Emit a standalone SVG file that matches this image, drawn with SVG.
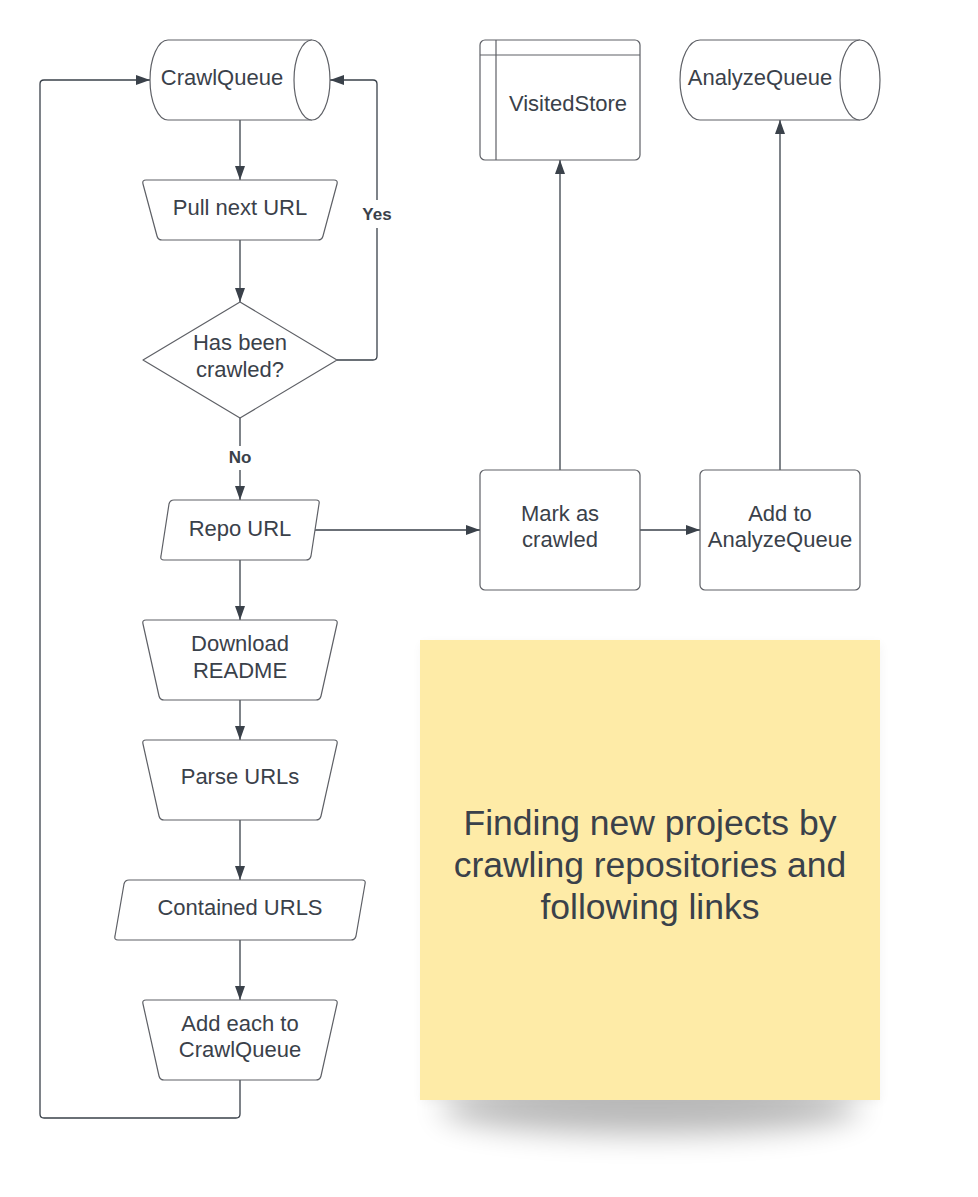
<svg xmlns="http://www.w3.org/2000/svg" width="978" height="1197" viewBox="0 0 978 1197">
<style>
.s{fill:#ffffff;stroke:#5e6066;stroke-width:1.2;stroke-linejoin:round}
.t{font-family:"Liberation Sans",Arial,sans-serif;font-size:22px;fill:#3a414a;text-anchor:middle}
.c{fill:none;stroke:#3a414a;stroke-width:1.3}
.lb{font-family:"Liberation Sans",Arial,sans-serif;font-size:17px;font-weight:bold;fill:#3a414a;text-anchor:middle}
.title{font-family:"Liberation Sans",Arial,sans-serif;font-size:35.5px;fill:#3a414a;text-anchor:middle}
</style>
<defs>
<marker id="ah" markerUnits="userSpaceOnUse" markerWidth="14" markerHeight="10" refX="14" refY="5" orient="auto">
<path d="M0,0 L14,5 L0,10 Z" fill="#3a414a"/>
</marker>
<filter id="blur" x="-30%" y="-100%" width="160%" height="300%">
<feGaussianBlur stdDeviation="15"/>
</filter>
<filter id="blur2" x="-20%" y="-20%" width="140%" height="140%">
<feGaussianBlur stdDeviation="6"/>
</filter>
<path id="trap80" d="M146,0 H334 Q338,0 337,4 L321,76 Q320,80 316,80 H164 Q160,80 159,76 L143,4 Q142,0 146,0 Z"/>
</defs>
<rect width="978" height="1197" fill="#ffffff"/>

<g id="note">
<rect x="422" y="644" width="458" height="458" fill="#000" opacity="0.05" filter="url(#blur2)"/>
<ellipse cx="650" cy="1108" rx="210" ry="26" fill="#000" opacity="0.28" filter="url(#blur)"/>
<rect x="420" y="640" width="460" height="460" fill="#FEEBA7"/>
<text class="title" x="650" y="835">Finding new projects by</text>
<text class="title" x="650" y="877">crawling repositories and</text>
<text class="title" x="650" y="919">following links</text>
</g>

<g id="connectors">
<path class="c" d="M240,120 V180" marker-end="url(#ah)"/>
<path class="c" d="M240,240 V302" marker-end="url(#ah)"/>
<path class="c" d="M240,418 V500" marker-end="url(#ah)"/>
<path class="c" d="M240,560 V620" marker-end="url(#ah)"/>
<path class="c" d="M240,700 V740" marker-end="url(#ah)"/>
<path class="c" d="M240,820 V880" marker-end="url(#ah)"/>
<path class="c" d="M240,940 V1000" marker-end="url(#ah)"/>
<path class="c" d="M337,360 H373 Q377,360 377,356 V84 Q377,80 373,80 H330" marker-end="url(#ah)"/>
<path class="c" d="M240,1080 V1114 Q240,1118 236,1118 H44 Q40,1118 40,1114 V84 Q40,80 44,80 H150" marker-end="url(#ah)"/>
<path class="c" d="M315,530 H480" marker-end="url(#ah)"/>
<path class="c" d="M640,530 H700" marker-end="url(#ah)"/>
<path class="c" d="M560,470 V160" marker-end="url(#ah)"/>
<path class="c" d="M780,470 V120" marker-end="url(#ah)"/>
<rect x="358" y="200" width="38" height="28" fill="#ffffff"/>
<text class="lb" x="377" y="220">Yes</text>
<rect x="224" y="446" width="32" height="24" fill="#ffffff"/>
<text class="lb" x="240" y="463">No</text>
</g>

<g id="crawlqueue">
<path class="s" d="M168,40 H312 A18,40 0 0 1 312,120 H168 A18,40 0 0 1 168,40 Z"/>
<path class="s" d="M312,40 A18,40 0 0 0 312,120" fill="none"/>
<text class="t" x="222" y="85">CrawlQueue</text>
</g>

<g id="pullnext">
<path class="s" d="M146,180 H334 Q338,180 337,184 L323,236 Q322,240 318,240 H162 Q158,240 157,236 L143,184 Q142,180 146,180 Z"/>
<text class="t" x="240" y="215">Pull next URL</text>
</g>

<g id="hasbeen">
<polygon class="s" points="240,302 337,360 240,418 143,360"/>
<text class="t" x="240" y="350">Has been</text>
<text class="t" x="240" y="377">crawled?</text>
</g>

<g id="repourl">
<path class="s" d="M174,500 H316 Q320,500 319,504 L311,556 Q310,560 306,560 H164 Q160,560 161,556 L169,504 Q170,500 174,500 Z"/>
<text class="t" x="240" y="536">Repo URL</text>
</g>

<g id="download">
<use href="#trap80" class="s" transform="translate(0,620)"/>
<text class="t" x="240" y="651">Download</text>
<text class="t" x="240" y="678">README</text>
</g>

<g id="parse">
<use href="#trap80" class="s" transform="translate(0,740)"/>
<text class="t" x="240" y="784">Parse URLs</text>
</g>

<g id="contained">
<path class="s" d="M129,880 H362 Q366,880 365,884 L356,936 Q355,940 351,940 H118 Q114,940 115,936 L124,884 Q125,880 129,880 Z"/>
<text class="t" x="240" y="915">Contained URLS</text>
</g>

<g id="addeach">
<use href="#trap80" class="s" transform="translate(0,1000)"/>
<text class="t" x="240" y="1031">Add each to</text>
<text class="t" x="240" y="1057">CrawlQueue</text>
</g>

<g id="visitedstore">
<rect class="s" x="480" y="40" width="160" height="120" rx="5"/>
<line class="s" x1="480" y1="55" x2="640" y2="55"/>
<line class="s" x1="496" y1="40" x2="496" y2="160"/>
<text class="t" x="568" y="111">VisitedStore</text>
</g>

<g id="analyzequeue">
<path class="s" d="M700,40 H860 A20,40 0 0 1 860,120 H700 A20,40 0 0 1 700,40 Z"/>
<path class="s" d="M860,40 A20,40 0 0 0 860,120" fill="none"/>
<text class="t" x="760" y="85">AnalyzeQueue</text>
</g>

<g id="mark">
<rect class="s" x="480" y="470" width="160" height="120" rx="5"/>
<text class="t" x="560" y="521">Mark as</text>
<text class="t" x="560" y="547">crawled</text>
</g>

<g id="addto">
<rect class="s" x="700" y="470" width="160" height="120" rx="5"/>
<text class="t" x="780" y="521">Add to</text>
<text class="t" x="780" y="547">AnalyzeQueue</text>
</g>
</svg>
